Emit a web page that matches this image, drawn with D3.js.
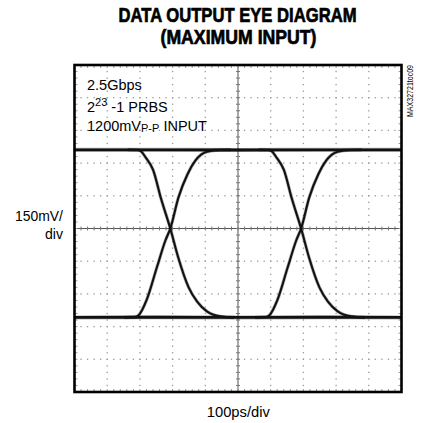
<!DOCTYPE html>
<html>
<head>
<meta charset="utf-8">
<script src="https://cdn.jsdelivr.net/npm/d3@7/dist/d3.min.js"></script>
<style>
  html, body { margin: 0; padding: 0; background: #fff; }
  svg { display: block; }
</style>
</head>
<body>
<svg id="chart" width="425" height="423"></svg>
<script>
// ---------- data ----------
const titleLines = ["DATA OUTPUT EYE DIAGRAM", "(MAXIMUM INPUT)"];
const xLabel = "100ps/div";
const yLabelLines = ["150mV/", "div"];
const figureId = "MAX32721toc09";

// axis domains: 10 divisions each
const timeDomain = [0, 1000];      // ps, 100 ps/div
const voltDomain = [-750, 750];    // mV, 150 mV/div

// rails (mV) sampled across the screen
const railTimes = [0, 250, 500, 750, 1000];
const topRail = [361, 361, 360, 361, 361];
const bottomRail = [-408, -407, -408, -407, -408];

// crossing instants (ps)
const crossings = [293, 693];

// falling edge: time relative to crossing (ps), level (mV)
const fallT = [-130, -100, -88, -75, -53, -28, 0, 24, 56, 82, 112, 153, 195];
const fallV = [361, 360, 352, 325, 270, 135, 0, -132, -270, -335, -380, -403, -408];

// rising edge: time relative to crossing (ps), level (mV)
const riseT = [-140, -108, -97, -85, -73, -41, -15, 0, 25, 53, 77, 112, 153, 185];
const riseV = [-408, -406, -398, -370, -330, -178, -55, 0, 143, 250, 312, 352, 360, 361];

// ---------- drawing ----------
(function () {
const svg = d3.select("#chart");
const pLeft = 74.5, pRight = 401.5, pTop = 65, pBottom = 392;

const x = d3.scaleLinear().domain(timeDomain).range([pLeft, pRight]);
const y = d3.scaleLinear().domain(voltDomain).range([pBottom, pTop]);

const majorX = d3.range(timeDomain[0], timeDomain[1] + 1, 100);
const majorY = d3.range(voltDomain[0], voltDomain[1] + 1, 150);
const minorX = d3.range(timeDomain[0], timeDomain[1] + 1, 20);
const minorY = d3.range(voltDomain[0], voltDomain[1] + 1, 30);

const grid = svg.append("g");
const gridColor = "#999";

majorX.filter(v => v !== 0 && v !== 500 && v !== 1000).forEach(v => {
  grid.selectAll(null).data(minorY).enter().append("rect")
    .attr("x", x(v) - 0.65).attr("y", d => y(d) - 0.65)
    .attr("width", 1.3).attr("height", 1.3).attr("fill", gridColor);
});
majorY.filter(v => v !== -750 && v !== 0 && v !== 750).forEach(v => {
  grid.selectAll(null).data(minorX).enter().append("rect")
    .attr("x", d => x(d) - 0.65).attr("y", y(v) - 0.65)
    .attr("width", 1.3).attr("height", 1.3).attr("fill", gridColor);
});

grid.append("line").attr("x1", x(500)).attr("x2", x(500)).attr("y1", pTop).attr("y2", pBottom)
  .attr("stroke", "#555").attr("stroke-width", 1);
grid.append("line").attr("x1", pLeft).attr("x2", pRight).attr("y1", y(0)).attr("y2", y(0))
  .attr("stroke", "#555").attr("stroke-width", 1);
grid.selectAll(null).data(minorY).enter().append("line")
  .attr("x1", x(500) - 2).attr("x2", x(500) + 2).attr("y1", d => y(d)).attr("y2", d => y(d))
  .attr("stroke", "#777").attr("stroke-width", 1);
grid.selectAll(null).data(minorX).enter().append("line")
  .attr("y1", y(0) - 2).attr("y2", y(0) + 2).attr("x1", d => x(d)).attr("x2", d => x(d))
  .attr("stroke", "#777").attr("stroke-width", 1);

grid.selectAll(null).data(minorX).enter().append("line")
  .attr("x1", d => x(d)).attr("x2", d => x(d)).attr("y1", pBottom).attr("y2", pBottom - 3)
  .attr("stroke", gridColor).attr("stroke-width", 1);
grid.selectAll(null).data(minorX).enter().append("line")
  .attr("x1", d => x(d)).attr("x2", d => x(d)).attr("y1", pTop).attr("y2", pTop + 3)
  .attr("stroke", gridColor).attr("stroke-width", 1);
grid.selectAll(null).data(minorY).enter().append("line")
  .attr("y1", d => y(d)).attr("y2", d => y(d)).attr("x1", pLeft).attr("x2", pLeft + 3)
  .attr("stroke", gridColor).attr("stroke-width", 1);
grid.selectAll(null).data(minorY).enter().append("line")
  .attr("y1", d => y(d)).attr("y2", d => y(d)).attr("x1", pRight).attr("x2", pRight - 3)
  .attr("stroke", gridColor).attr("stroke-width", 1);

svg.append("clipPath").attr("id", "plotClip").append("rect")
  .attr("x", pLeft).attr("y", pTop).attr("width", pRight - pLeft).attr("height", pBottom - pTop);

const line = d3.line().x(d => x(d[0])).y(d => y(d[1])).curve(d3.curveMonotoneX);
const traces = svg.append("g").attr("clip-path", "url(#plotClip)");

const paths = [];
paths.push({ pts: railTimes.map((t, i) => [t, topRail[i]]), w: 2.8 });
paths.push({ pts: railTimes.map((t, i) => [t, bottomRail[i]]), w: 2.8 });
crossings.forEach(c => {
  paths.push({ pts: fallT.map((t, i) => [c + t, fallV[i]]), w: 2.1 });
  paths.push({ pts: riseT.map((t, i) => [c + t, riseV[i]]), w: 2.1 });
});
traces.selectAll("path.halo").data(paths).enter().append("path")
  .attr("class", "halo").attr("d", d => line(d.pts))
  .attr("fill", "none").attr("stroke", "#000").attr("stroke-opacity", 0.3)
  .attr("stroke-width", d => d.w + 1.3);
traces.selectAll("path.core").data(paths).enter().append("path")
  .attr("class", "core").attr("d", d => line(d.pts))
  .attr("fill", "none").attr("stroke", "#111").attr("stroke-width", d => d.w)
  .attr("stroke-linejoin", "round");

svg.append("rect").attr("x", pLeft).attr("y", pTop)
  .attr("width", pRight - pLeft).attr("height", pBottom - pTop)
  .attr("fill", "none").attr("stroke", "#000").attr("stroke-width", 2.6);

// ---------- text ----------
const titleFont = "'Liberation Sans Narrow', 'Liberation Sans', Arial, sans-serif";
const bodyFont = "'Liberation Sans', Arial, sans-serif";

svg.append("text").attr("x", 237.5).attr("y", 21.5).attr("text-anchor", "middle")
  .attr("font-family", titleFont).attr("font-weight", "bold").attr("font-size", 20.5)
  .attr("stroke", "#000").attr("stroke-width", 0.7)
  .attr("textLength", 238).attr("lengthAdjust", "spacingAndGlyphs")
  .text(titleLines[0]);
svg.append("text").attr("x", 238.5).attr("y", 43.5).attr("text-anchor", "middle")
  .attr("font-family", titleFont).attr("font-weight", "bold").attr("font-size", 20.5)
  .attr("stroke", "#000").attr("stroke-width", 0.7)
  .attr("textLength", 156).attr("lengthAdjust", "spacingAndGlyphs")
  .text(titleLines[1]);

const ann = svg.append("g").attr("font-family", bodyFont).attr("font-size", 14.5).attr("fill", "#000");
ann.append("text").attr("x", 87).attr("y", 90).text("2.5Gbps");
const t2 = ann.append("text").attr("x", 87).attr("y", 111.5);
t2.append("tspan").text("2");
t2.append("tspan").attr("font-size", 11).attr("dy", -6).text("23");
t2.append("tspan").attr("dy", 6).text(" -1 PRBS");
const t3 = ann.append("text").attr("x", 87).attr("y", 131);
t3.append("tspan").text("1200mV");
t3.append("tspan").attr("font-size", 11).attr("dy", 1).text("P-P");
t3.append("tspan").attr("dy", -1).text(" INPUT");

const yLabW = [48, 18];
yLabelLines.forEach((s, i) => {
  svg.append("text").attr("x", 63).attr("y", 220.7 + i * 18.5).attr("text-anchor", "end")
    .attr("font-family", bodyFont).attr("font-size", 15)
    .attr("textLength", yLabW[i]).attr("lengthAdjust", "spacingAndGlyphs").text(s);
});

svg.append("text").attr("x", 238.3).attr("y", 416.5).attr("text-anchor", "middle")
  .attr("font-family", bodyFont).attr("font-size", 15)
  .attr("textLength", 63).attr("lengthAdjust", "spacingAndGlyphs").text(xLabel);

svg.append("text").attr("transform", "translate(413,117) rotate(-90)")
  .attr("font-family", bodyFont).attr("font-size", 9)
  .attr("textLength", 52).attr("lengthAdjust", "spacingAndGlyphs")
  .text(figureId);
})();
</script>
</body>
</html>
